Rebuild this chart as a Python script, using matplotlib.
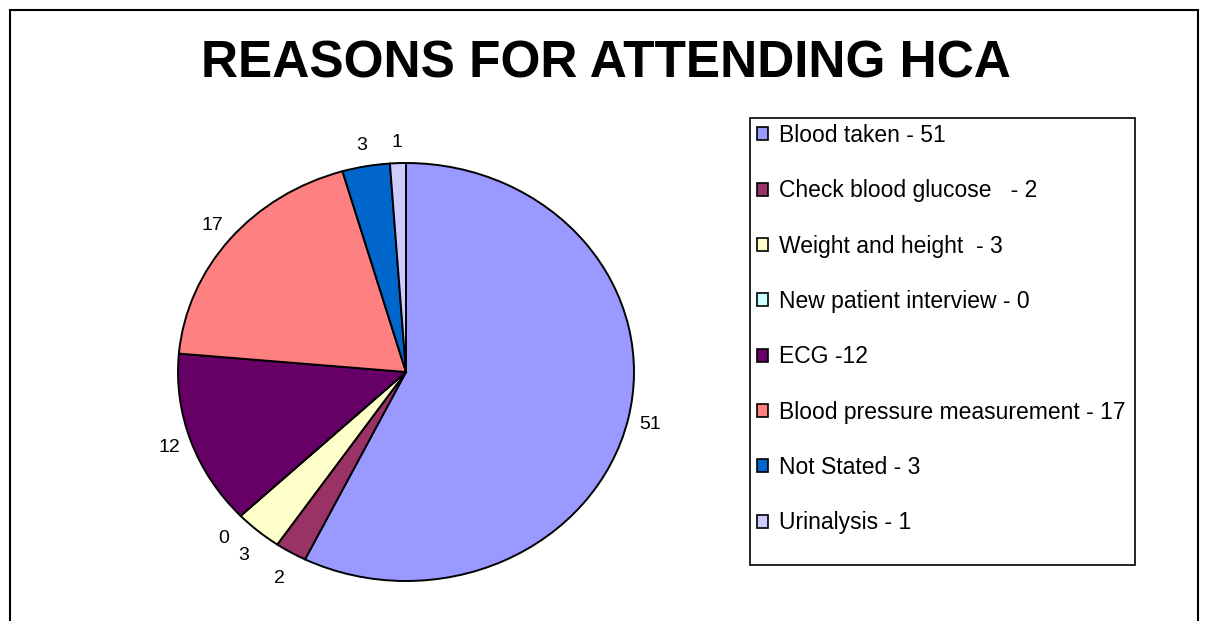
import matplotlib
matplotlib.use("Agg")
import numpy as np
import matplotlib.pyplot as plt
from matplotlib.patches import Rectangle, Patch

categories = ["Blood taken - 51", "Check blood glucose   - 2", "Weight and height  - 3",
              "New patient interview - 0", "ECG -12", "Blood pressure measurement - 17",
              "Not Stated - 3", "Urinalysis - 1"]
values = [51, 2, 3, 0, 12, 17, 3, 1]
colors = ["#9999FF", "#993366", "#FFFFCC", "#CCFFFF", "#660066", "#FF8080", "#0066CC", "#CCCCFF"]
title = "REASONS FOR ATTENDING HCA"

plt.rcParams['font.family'] = ['Liberation Sans', 'DejaVu Sans']

W, H = 1205, 621
fig = plt.figure(figsize=(W / 100, H / 100), dpi=100)

# outer frame
fig.patches.append(Rectangle((10 / W, -0.05), 1188 / W, 1 - 10 / H + 0.05,
                             transform=fig.transFigure, fill=False,
                             edgecolor="black", linewidth=1.5))

fig.text(606 / W, 1 - 64 / H, title, ha="center", va="center",
         fontsize=37, fontweight="bold")

cx, cy, rx, ry = 406, 372, 228, 209
ax = fig.add_axes([(cx - rx) / W, (H - cy - ry) / H, 2 * rx / W, 2 * ry / H])
wedges, texts = ax.pie(values, colors=colors, startangle=90, counterclock=False,
                       labels=[str(v) for v in values], labeldistance=1.1,
                       wedgeprops=dict(edgecolor="black", linewidth=1.4),
                       textprops=dict(fontsize=14))
for t in texts:
    x, y = t.get_position()
    t.set_ha("center")
    t.set_va("top" if y < -0.6 else "center")
ax.set_xlim(-1, 1)
ax.set_ylim(-1, 1)
ax.set_aspect("auto")
ax.axis("off")

# legend frame
lx0, ly0, lx1, ly1 = 750, 118, 1135, 565
fig.patches.append(Rectangle((lx0 / W, 1 - ly1 / H), (lx1 - lx0) / W, (ly1 - ly0) / H,
                             transform=fig.transFigure, fill=False,
                             edgecolor="black", linewidth=1.2))
handles = [Patch(facecolor=c, edgecolor="black", linewidth=1.2) for c in colors]
fig.legend(handles, categories, loc="upper left",
           bbox_to_anchor=(757 / W, 1 - 124 / H), frameon=False,
           fontsize=16.5, handlelength=0.5, handleheight=0.5,
           handletextpad=0.46, labelspacing=1.41, borderaxespad=0, borderpad=0)

fig.savefig("out.png", dpi=100)
